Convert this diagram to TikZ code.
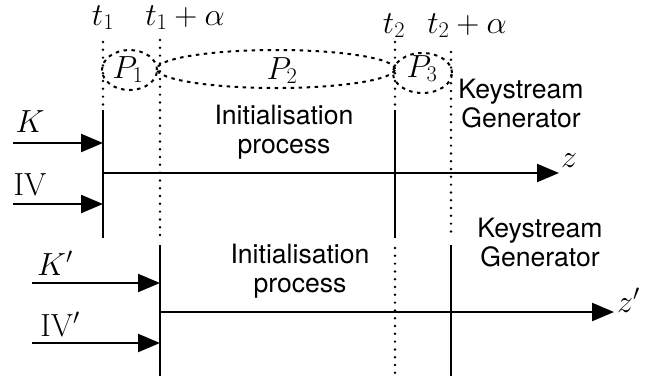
\RequirePackage{fix-cm}
\documentclass[tikz,border=0pt]{standalone}
\usepackage{fontspec}
\newfontfamily\helv{TeX Gyre Heros}
\usetikzlibrary{arrows.meta,shapes.geometric}

\begin{document}
\begin{tikzpicture}[x=1pt,y=-1pt,
  solidline/.style={line width=2.3pt},
  dotline/.style={line width=2.7pt,line cap=round,dash pattern=on 0pt off 7.8pt},
  phase/.style={ellipse,draw,line width=2pt,dash pattern=on 3.5pt off 4.5pt,inner sep=0pt},
  inarrow/.style={line width=2.3pt,-{Triangle[length=22pt,width=18pt]}},
  mathlbl/.style={inner sep=0pt,font=\fontsize{32}{38}\selectfont},
  txt/.style={inner sep=0pt,align=center,font=\helv\fontsize{26.6}{29}\selectfont}]
\useasboundingbox (0,0) rectangle (645,376);

% time markers
\node[mathlbl,anchor=base] (lt1)  at (103,25) {$t_1$};
\node[mathlbl,anchor=base] (lt1a) at (185,25) {$t_1+\alpha$};
\node[mathlbl,anchor=base] (lt2)  at (394,33) {$t_2$};
\node[mathlbl,anchor=base] (lt2a) at (467,33) {$t_2+\alpha$};

% phases
\node[phase,minimum width=55pt,minimum height=40pt]  (e1) at (129.5,70) {};
\node[phase,minimum width=238pt,minimum height=38pt] (e2) at (276,69) {};
\node[phase,minimum width=59pt,minimum height=40pt]  (e3) at (422.5,73) {};
\node[mathlbl,anchor=base] (p1) at (128,78) {$P_1$};
\node[mathlbl,anchor=base] (p2) at (282,79) {$P_2$};
\node[mathlbl,anchor=base] (p3) at (422,77) {$P_3$};

% vertical time lines
\coordinate (a0) at (103,42);  \coordinate (a1) at (103,110); \coordinate (a2) at (103,238);
\coordinate (b0) at (160,40);  \coordinate (b1) at (160,237); \coordinate (b2) at (160,245); \coordinate (b3) at (160,376);
\coordinate (c0) at (395,42);  \coordinate (c1) at (395,110); \coordinate (c2) at (395,238); \coordinate (c3) at (395,248); \coordinate (c4) at (395,376);
\coordinate (d0) at (451,52);  \coordinate (d1) at (451,237); \coordinate (d2) at (451,245); \coordinate (d3) at (451,376);

\draw[dotline]   (a0) -- (a1);
\draw[solidline] (a1) -- (a2);
\draw[dotline]   (b0) -- (b1);
\draw[solidline] (b2) -- (b3);
\draw[dotline]   (c0) -- (c1);
\draw[solidline] (c1) -- (c2);
\draw[dotline]   (c3) -- (c4);
\draw[dotline]   (d0) -- (d1);
\draw[solidline] (d2) -- (d3);

% first run
\coordinate (k0)  at (13,143);  \coordinate (k1)  at (103,143);
\coordinate (iv0) at (13,204);  \coordinate (iv1) at (103,204);
\coordinate (z0)  at (103,173); \coordinate (z1)  at (559,173);
\node[mathlbl,anchor=base] (lk)  at (30,132) {$K$};
\node[mathlbl,anchor=base] (liv) at (30,195) {IV};
\draw[inarrow] (k0) -- (k1);
\draw[inarrow] (iv0) -- (iv1);
\draw[inarrow] (z0) -- (z1);
\node[mathlbl,anchor=base west] (lz) at (561,167) {$z$};
\node[txt,anchor=north] (init1) at (284,105) {Initialisation\\process};
\node[txt,anchor=north] (gen1)  at (521,79)  {Keystream\\Generator};

% second run
\coordinate (kp0)  at (32,283);  \coordinate (kp1)  at (160,283);
\coordinate (ivp0) at (32,343);  \coordinate (ivp1) at (160,343);
\coordinate (zp0)  at (160,312); \coordinate (zp1)  at (614,312);
\node[mathlbl,anchor=base] (lkp)  at (55,275) {$K'$};
\node[mathlbl,anchor=base] (livp) at (60,336) {IV$'$};
\draw[inarrow] (kp0) -- (kp1);
\draw[inarrow] (ivp0) -- (ivp1);
\draw[inarrow] (zp0) -- (zp1);
\node[mathlbl,anchor=base west] (lzp) at (617,312) {$z'$};
\node[txt,anchor=north] (init2) at (300,244) {Initialisation\\process};
\node[txt,anchor=north] (gen2)  at (540,218) {Keystream\\Generator};
\end{tikzpicture}
\end{document}
